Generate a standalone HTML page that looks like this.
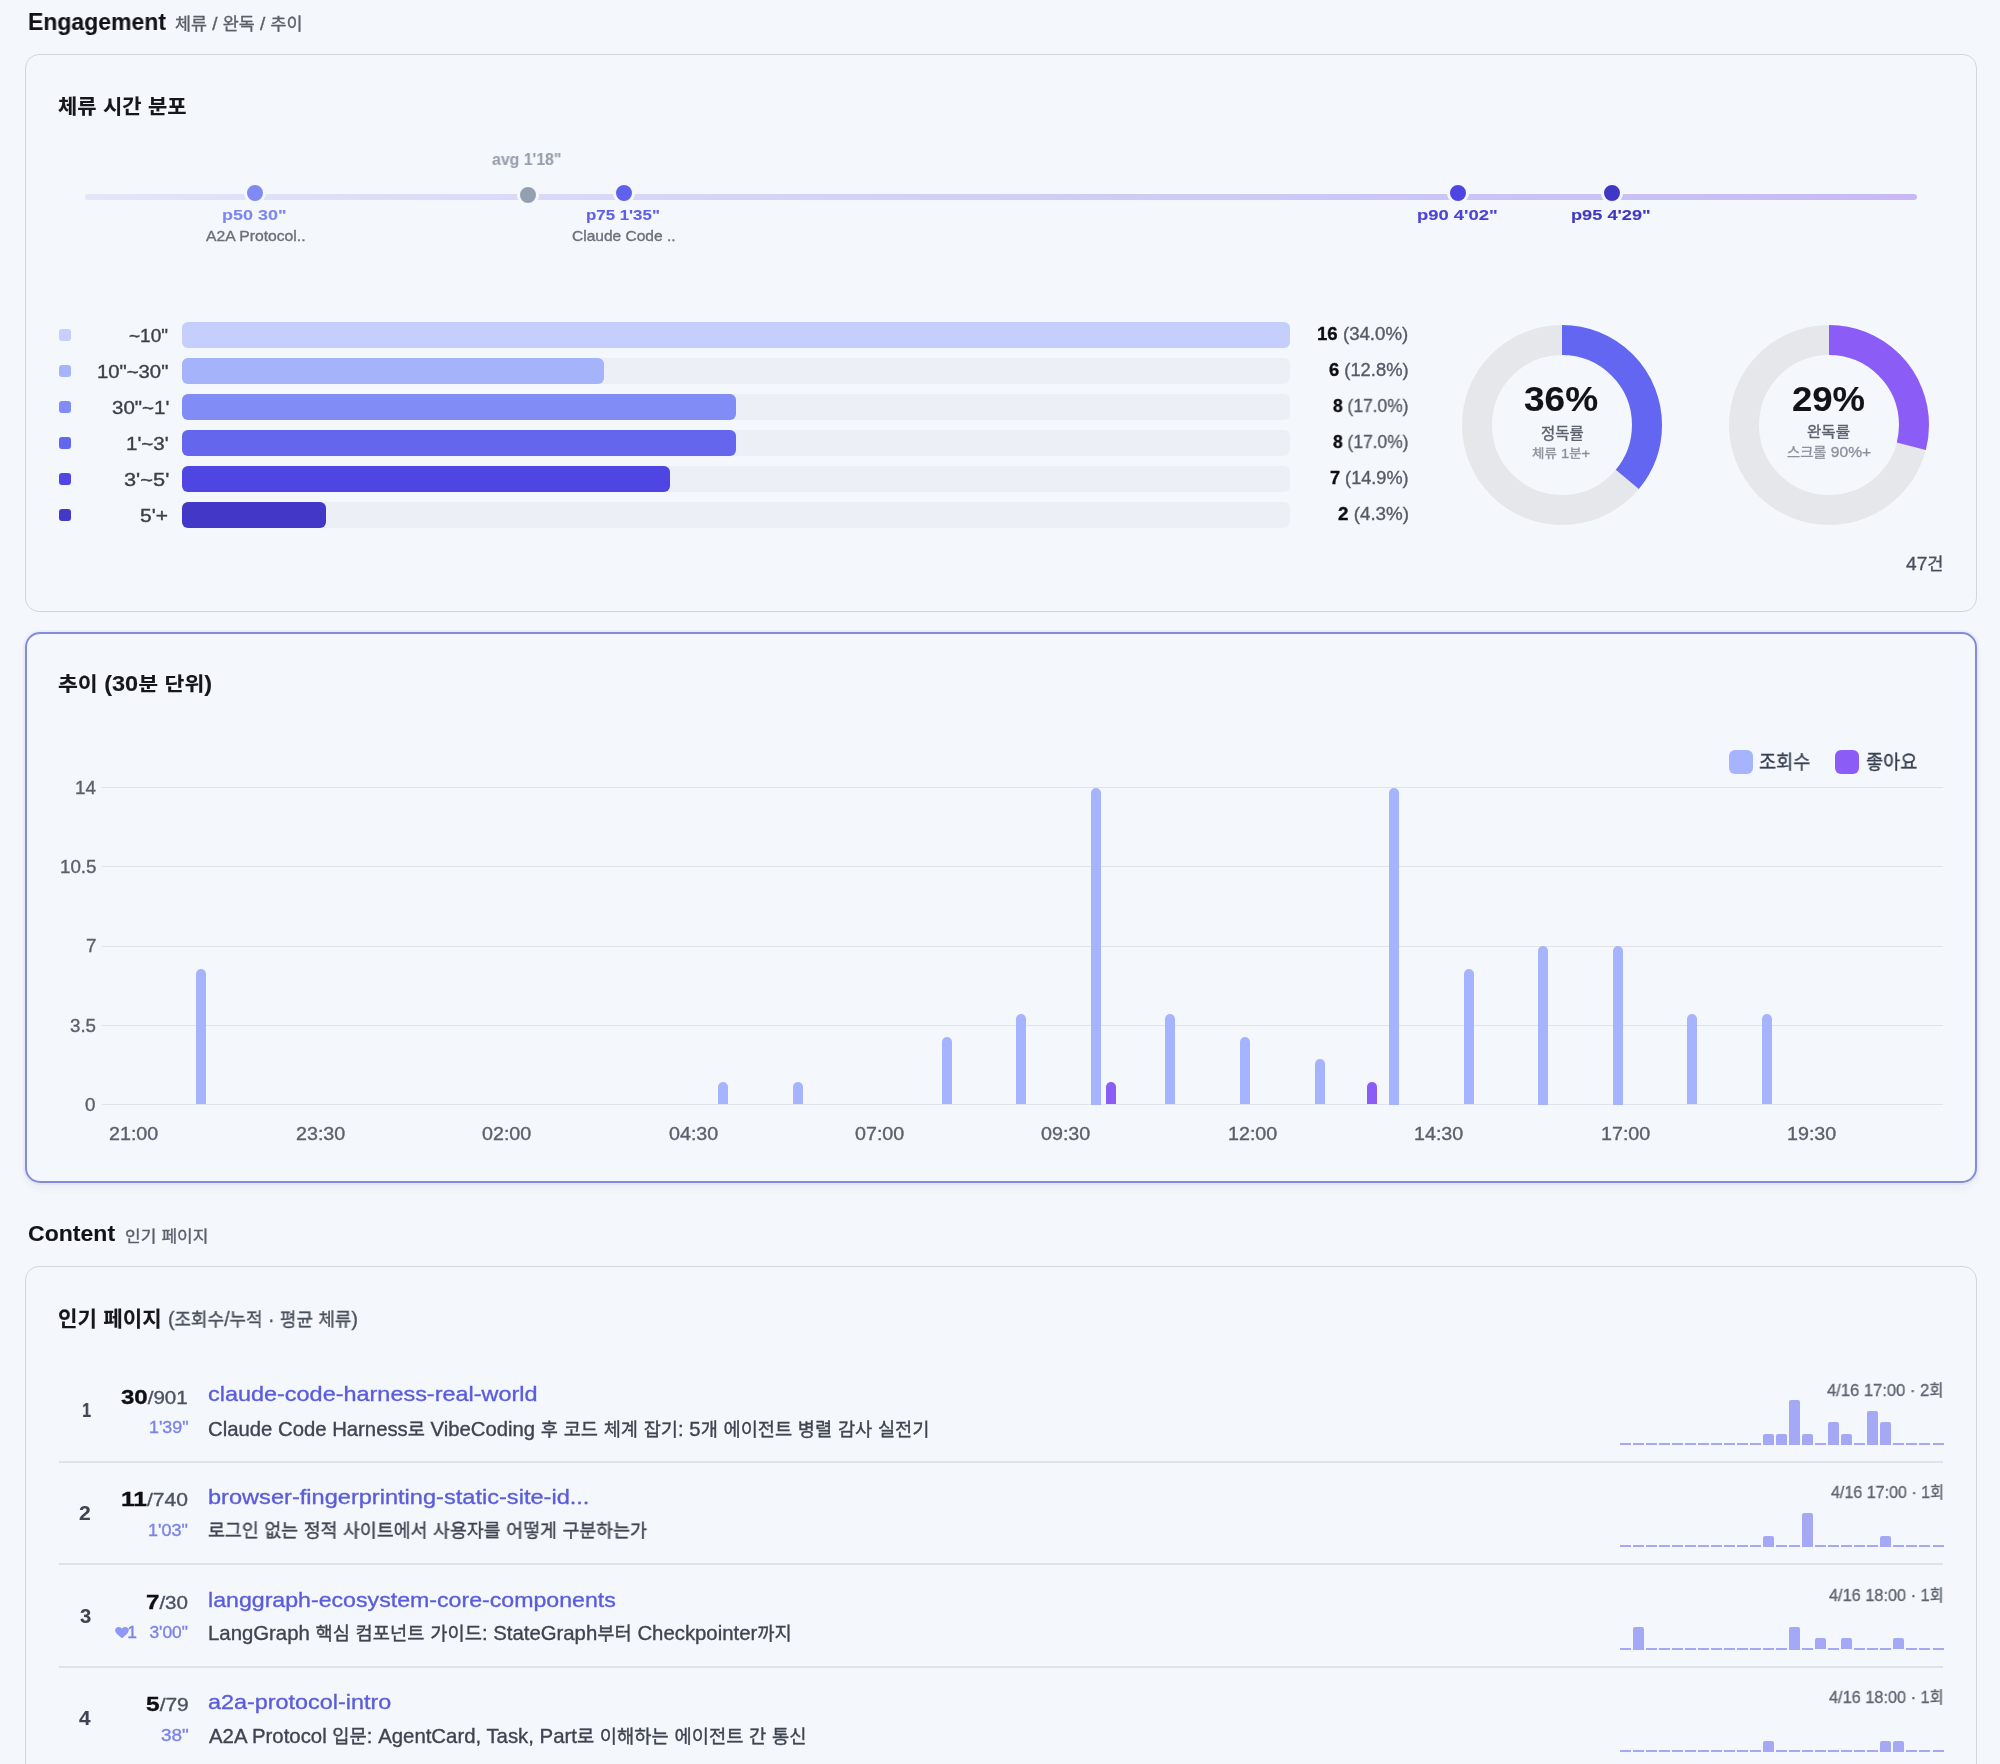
<!DOCTYPE html>
<html lang="ko"><head><meta charset="utf-8"><title>Engagement</title>
<style>
*{box-sizing:border-box;margin:0;padding:0}
html,body{width:2000px;height:1764px;overflow:hidden;background:#f4f7fb}
body{position:relative;font-family:"Liberation Sans","Noto Sans CJK KR",sans-serif;color:#111827}
.a{position:absolute;white-space:nowrap;line-height:1;transform-origin:0 0;will-change:transform;-webkit-text-stroke:0.35px currentColor}
.card{position:absolute;left:25px;width:1952px;border:1px solid #d3d7dd;border-radius:14px;background:#f4f7fb}
.h2{font-weight:700;font-size:23px;color:#111318}
.sub{font-size:17px;color:#5b606b}
.ct{font-weight:700;font-size:21px;color:#15171c}
.dot{position:absolute;width:22px;height:22px;border-radius:50%;border:3px solid #f4f7fb;margin:-11px 0 0 -11px}
.pl{font-weight:700;font-size:15.5px;text-align:center;transform:translateX(-50%)}
.pn{font-size:15px;color:#6b7079;text-align:center;transform:translateX(-50%)}
.sw{position:absolute;left:59px;width:12px;height:12px;border-radius:3px}
.bl{position:absolute;right:1832px;font-size:18px;color:#3c4049;text-align:right}
.trk{position:absolute;left:182px;width:1108px;height:26px;border-radius:6px;background:#eceff6}
.bar{position:absolute;left:0;top:0;height:26px;border-radius:6px}
.cnt{position:absolute;right:593px;font-size:18px;color:#555b66;text-align:right}
.cnt b{color:#0d0f14}
.ylab{right:1904px;font-size:18px;color:#5b606b;text-align:right}
.xlab{top:1125px;font-size:18px;color:#5b606b;transform:translateX(-50%)}
.vb{position:absolute;width:10px;background:#a5b4fc;border-radius:5px 5px 0 0}
.lb{position:absolute;width:10px;background:#8b5cf6;border-radius:5px 5px 0 0}
.leg{top:750px;font-size:20px;color:#374151}
.rk{right:1909px;font-size:20px;font-weight:700;color:#3f4450;text-align:right}
.vv{right:1812px;font-size:18px;color:#4b5260;text-align:right}
.vv b{font-size:21px;color:#0d0f14}
.du{right:1812px;font-size:16px;color:#7b83e8;text-align:right}
.hrt{margin-right:12px}
.lk{left:209px;font-size:21px;color:#5b5fe0}
.ds{left:209px;font-size:20px;color:#3f4450}
.dt{right:57px;font-size:16px;color:#5f6672;text-align:right}
.sz{position:absolute;width:11px;height:2px;background:#a5a8f5}
.sb{position:absolute;width:11px;background:#a5a8f5;border-radius:2px 2px 0 0}
</style></head>
<body>
<!-- Engagement header -->

<!-- Card 1 -->
<div class="card" style="top:54px;height:558px"></div>

<!-- timeline -->
<div style="position:absolute;left:85px;top:194px;width:1832px;height:6px;border-radius:3px;background:linear-gradient(90deg,#e3e5f9 0%,#d2d3f6 40%,#c9c3f5 80%,#c8b9f6 100%)"></div>
<div class="dot" style="left:528px;top:195px;background:#94a0b1"></div>
<div class="dot" style="left:255px;top:193px;background:#7f8af4"></div>
<div class="dot" style="left:624px;top:193px;background:#6062ee"></div>
<div class="dot" style="left:1458px;top:193px;background:#4e45e3"></div>
<div class="dot" style="left:1612px;top:193px;background:#4137c6"></div>

<!-- histogram -->
<div class="sw" style="top:329px;background:#c7d0fd"></div>
<div class="sw" style="top:365px;background:#a6b4fc"></div>
<div class="sw" style="top:401px;background:#818cf6"></div>
<div class="sw" style="top:437px;background:#6366ef"></div>
<div class="sw" style="top:473px;background:#4f46e4"></div>
<div class="sw" style="top:509px;background:#4338c8"></div>


<div class="trk" style="top:322px"><div class="bar" style="width:1108px;background:#c6cefd"></div></div>
<div class="trk" style="top:358px"><div class="bar" style="width:422px;background:#a5b3fb"></div></div>
<div class="trk" style="top:394px"><div class="bar" style="width:554px;background:#828cf7"></div></div>
<div class="trk" style="top:430px"><div class="bar" style="width:554px;background:#6467ee"></div></div>
<div class="trk" style="top:466px"><div class="bar" style="width:488px;background:#4f45e3"></div></div>
<div class="trk" style="top:502px"><div class="bar" style="width:144px;background:#4237c7"></div></div>


<!-- donuts -->
<svg style="position:absolute;left:1462px;top:325px" width="200" height="200" viewBox="0 0 200 200">
<circle cx="100" cy="100" r="85" fill="none" stroke="#e5e7eb" stroke-width="30"/>
<circle cx="100" cy="100" r="85" fill="none" stroke="#6366f1" stroke-width="30" stroke-dasharray="192.27 534.07" transform="rotate(-90 100 100)"/>
</svg>
<svg style="position:absolute;left:1729px;top:325px" width="200" height="200" viewBox="0 0 200 200">
<circle cx="100" cy="100" r="85" fill="none" stroke="#e5e7eb" stroke-width="30"/>
<circle cx="100" cy="100" r="85" fill="none" stroke="#8b5cf6" stroke-width="30" stroke-dasharray="154.88 534.07" transform="rotate(-90 100 100)"/>
</svg>

<!-- Card 2 -->
<div class="card" style="top:631.5px;height:551.5px;border:2px solid #858bda;border-radius:15px;box-shadow:0 0 0 2px rgba(99,102,241,0.05),0 5px 10px rgba(30,40,80,0.05)"></div>
<div style="position:absolute;left:102px;top:787.0px;width:1841px;height:1px;background:#e0e3e8"></div>
<div style="position:absolute;left:102px;top:866.2px;width:1841px;height:1px;background:#e0e3e8"></div>
<div style="position:absolute;left:102px;top:945.5px;width:1841px;height:1px;background:#e0e3e8"></div>
<div style="position:absolute;left:102px;top:1024.7px;width:1841px;height:1px;background:#e0e3e8"></div>
<div style="position:absolute;left:102px;top:1104.0px;width:1841px;height:1px;background:#e0e3e8"></div>
<div class="vb" style="left:196.2px;top:968.6px;height:135.9px"></div>
<div class="vb" style="left:718.1px;top:1081.9px;height:22.6px"></div>
<div class="vb" style="left:792.6px;top:1081.9px;height:22.6px"></div>
<div class="vb" style="left:941.8px;top:1036.6px;height:67.9px"></div>
<div class="vb" style="left:1016.3px;top:1013.9px;height:90.6px"></div>
<div class="vb" style="left:1090.9px;top:787.5px;height:317.0px"></div>
<div class="vb" style="left:1165.4px;top:1013.9px;height:90.6px"></div>
<div class="vb" style="left:1240.0px;top:1036.6px;height:67.9px"></div>
<div class="vb" style="left:1314.6px;top:1059.2px;height:45.3px"></div>
<div class="vb" style="left:1389.1px;top:787.5px;height:317.0px"></div>
<div class="vb" style="left:1463.7px;top:968.6px;height:135.9px"></div>
<div class="vb" style="left:1538.2px;top:946.0px;height:158.5px"></div>
<div class="vb" style="left:1612.8px;top:946.0px;height:158.5px"></div>
<div class="vb" style="left:1687.4px;top:1013.9px;height:90.6px"></div>
<div class="vb" style="left:1761.9px;top:1013.9px;height:90.6px"></div>
<div class="lb" style="left:1105.9px;top:1081.9px;height:22.6px"></div>
<div class="lb" style="left:1366.8px;top:1081.9px;height:22.6px"></div>
<div style="position:absolute;left:1729px;top:750px;width:24px;height:24px;border-radius:6px;background:#a5b4fc"></div>
<div style="position:absolute;left:1835px;top:750px;width:24px;height:24px;border-radius:6px;background:#8b5cf6"></div>

<!-- Content header -->

<!-- Card 3 -->
<div class="card" style="top:1266px;height:600px"></div>
<div class="sz" style="left:1619.5px;top:1442.7px"></div>
<div class="sz" style="left:1632.5px;top:1442.7px"></div>
<div class="sz" style="left:1645.6px;top:1442.7px"></div>
<div class="sz" style="left:1658.6px;top:1442.7px"></div>
<div class="sz" style="left:1671.7px;top:1442.7px"></div>
<div class="sz" style="left:1684.7px;top:1442.7px"></div>
<div class="sz" style="left:1697.7px;top:1442.7px"></div>
<div class="sz" style="left:1710.8px;top:1442.7px"></div>
<div class="sz" style="left:1723.8px;top:1442.7px"></div>
<div class="sz" style="left:1736.9px;top:1442.7px"></div>
<div class="sz" style="left:1749.9px;top:1442.7px"></div>
<div class="sb" style="left:1762.9px;top:1433.5px;height:11.2px"></div>
<div class="sb" style="left:1776.0px;top:1433.5px;height:11.2px"></div>
<div class="sb" style="left:1789.0px;top:1399.7px;height:45.0px"></div>
<div class="sb" style="left:1802.1px;top:1433.5px;height:11.2px"></div>
<div class="sz" style="left:1815.1px;top:1442.7px"></div>
<div class="sb" style="left:1828.1px;top:1422.2px;height:22.5px"></div>
<div class="sb" style="left:1841.2px;top:1433.5px;height:11.2px"></div>
<div class="sz" style="left:1854.2px;top:1442.7px"></div>
<div class="sb" style="left:1867.3px;top:1411.0px;height:33.8px"></div>
<div class="sb" style="left:1880.3px;top:1422.2px;height:22.5px"></div>
<div class="sz" style="left:1893.3px;top:1442.7px"></div>
<div class="sz" style="left:1906.4px;top:1442.7px"></div>
<div class="sz" style="left:1919.4px;top:1442.7px"></div>
<div class="sz" style="left:1932.5px;top:1442.7px"></div>
<div style="position:absolute;left:59px;top:1461.0px;width:1884px;height:2px;background:#dfe2e7"></div>
<div class="sz" style="left:1619.5px;top:1545.1px"></div>
<div class="sz" style="left:1632.5px;top:1545.1px"></div>
<div class="sz" style="left:1645.6px;top:1545.1px"></div>
<div class="sz" style="left:1658.6px;top:1545.1px"></div>
<div class="sz" style="left:1671.7px;top:1545.1px"></div>
<div class="sz" style="left:1684.7px;top:1545.1px"></div>
<div class="sz" style="left:1697.7px;top:1545.1px"></div>
<div class="sz" style="left:1710.8px;top:1545.1px"></div>
<div class="sz" style="left:1723.8px;top:1545.1px"></div>
<div class="sz" style="left:1736.9px;top:1545.1px"></div>
<div class="sz" style="left:1749.9px;top:1545.1px"></div>
<div class="sb" style="left:1762.9px;top:1535.9px;height:11.2px"></div>
<div class="sz" style="left:1776.0px;top:1545.1px"></div>
<div class="sz" style="left:1789.0px;top:1545.1px"></div>
<div class="sb" style="left:1802.1px;top:1513.4px;height:33.8px"></div>
<div class="sz" style="left:1815.1px;top:1545.1px"></div>
<div class="sz" style="left:1828.1px;top:1545.1px"></div>
<div class="sz" style="left:1841.2px;top:1545.1px"></div>
<div class="sz" style="left:1854.2px;top:1545.1px"></div>
<div class="sz" style="left:1867.3px;top:1545.1px"></div>
<div class="sb" style="left:1880.3px;top:1535.9px;height:11.2px"></div>
<div class="sz" style="left:1893.3px;top:1545.1px"></div>
<div class="sz" style="left:1906.4px;top:1545.1px"></div>
<div class="sz" style="left:1919.4px;top:1545.1px"></div>
<div class="sz" style="left:1932.5px;top:1545.1px"></div>
<div style="position:absolute;left:59px;top:1563.4px;width:1884px;height:2px;background:#dfe2e7"></div>
<div class="sz" style="left:1619.5px;top:1647.5px"></div>
<div class="sb" style="left:1632.5px;top:1627.0px;height:22.5px"></div>
<div class="sz" style="left:1645.6px;top:1647.5px"></div>
<div class="sz" style="left:1658.6px;top:1647.5px"></div>
<div class="sz" style="left:1671.7px;top:1647.5px"></div>
<div class="sz" style="left:1684.7px;top:1647.5px"></div>
<div class="sz" style="left:1697.7px;top:1647.5px"></div>
<div class="sz" style="left:1710.8px;top:1647.5px"></div>
<div class="sz" style="left:1723.8px;top:1647.5px"></div>
<div class="sz" style="left:1736.9px;top:1647.5px"></div>
<div class="sz" style="left:1749.9px;top:1647.5px"></div>
<div class="sz" style="left:1762.9px;top:1647.5px"></div>
<div class="sz" style="left:1776.0px;top:1647.5px"></div>
<div class="sb" style="left:1789.0px;top:1627.0px;height:22.5px"></div>
<div class="sz" style="left:1802.1px;top:1647.5px"></div>
<div class="sb" style="left:1815.1px;top:1638.2px;height:11.2px"></div>
<div class="sz" style="left:1828.1px;top:1647.5px"></div>
<div class="sb" style="left:1841.2px;top:1638.2px;height:11.2px"></div>
<div class="sz" style="left:1854.2px;top:1647.5px"></div>
<div class="sz" style="left:1867.3px;top:1647.5px"></div>
<div class="sz" style="left:1880.3px;top:1647.5px"></div>
<div class="sb" style="left:1893.3px;top:1638.2px;height:11.2px"></div>
<div class="sz" style="left:1906.4px;top:1647.5px"></div>
<div class="sz" style="left:1919.4px;top:1647.5px"></div>
<div class="sz" style="left:1932.5px;top:1647.5px"></div>
<div style="position:absolute;left:59px;top:1665.8px;width:1884px;height:2px;background:#dfe2e7"></div>
<div class="sz" style="left:1619.5px;top:1749.9px"></div>
<div class="sz" style="left:1632.5px;top:1749.9px"></div>
<div class="sz" style="left:1645.6px;top:1749.9px"></div>
<div class="sz" style="left:1658.6px;top:1749.9px"></div>
<div class="sz" style="left:1671.7px;top:1749.9px"></div>
<div class="sz" style="left:1684.7px;top:1749.9px"></div>
<div class="sz" style="left:1697.7px;top:1749.9px"></div>
<div class="sz" style="left:1710.8px;top:1749.9px"></div>
<div class="sz" style="left:1723.8px;top:1749.9px"></div>
<div class="sz" style="left:1736.9px;top:1749.9px"></div>
<div class="sz" style="left:1749.9px;top:1749.9px"></div>
<div class="sb" style="left:1762.9px;top:1740.7px;height:11.2px"></div>
<div class="sz" style="left:1776.0px;top:1749.9px"></div>
<div class="sz" style="left:1789.0px;top:1749.9px"></div>
<div class="sz" style="left:1802.1px;top:1749.9px"></div>
<div class="sz" style="left:1815.1px;top:1749.9px"></div>
<div class="sz" style="left:1828.1px;top:1749.9px"></div>
<div class="sz" style="left:1841.2px;top:1749.9px"></div>
<div class="sz" style="left:1854.2px;top:1749.9px"></div>
<div class="sz" style="left:1867.3px;top:1749.9px"></div>
<div class="sb" style="left:1880.3px;top:1740.7px;height:11.2px"></div>
<div class="sb" style="left:1893.3px;top:1740.7px;height:11.2px"></div>
<div class="sz" style="left:1906.4px;top:1749.9px"></div>
<div class="sz" style="left:1919.4px;top:1749.9px"></div>
<div class="sz" style="left:1932.5px;top:1749.9px"></div>
<div class="a" style="left:27.51px;top:10.5px;font-size:23.33px;transform:scaleX(0.9856);font-weight:700;color:#111318;-webkit-text-stroke:0.1px currentColor">Engagement</div>
<div class="a" style="left:175.48px;top:15.0px;font-size:18.55px;transform:scaleX(1.0205);color:#5b606b"><span style="font-size:0.92em">체류</span> / <span style="font-size:0.92em">완독</span> / <span style="font-size:0.92em">추이</span></div>
<div class="a" style="left:57.98px;top:96.0px;font-size:22.29px;transform:scaleX(1.0242);font-weight:700;color:#15171c;-webkit-text-stroke:0.1px currentColor"><span style="font-size:0.92em">체류</span> <span style="font-size:0.92em">시간</span> <span style="font-size:0.92em">분포</span></div>
<div class="a" style="left:492.4px;top:150.6px;font-size:16.44px;transform:scaleX(0.9634);font-weight:700;color:#97a0ae;-webkit-text-stroke:0.1px currentColor">avg 1'18"</div>
<div class="a" style="left:221.83px;top:207.0px;font-size:15.4px;transform:scaleX(1.1667);font-weight:700;color:#7d87ef;-webkit-text-stroke:0.1px currentColor">p50 30"</div>
<div class="a" style="left:206.0px;top:229.0px;font-size:14.92px;transform:scaleX(1.0538);color:#6b7079">A2A Protocol..</div>
<div class="a" style="left:585.6px;top:207.0px;font-size:15.4px;transform:scaleX(1.0955);font-weight:700;color:#5f5fe9;-webkit-text-stroke:0.1px currentColor">p75 1'35"</div>
<div class="a" style="left:571.96px;top:229.0px;font-size:14.92px;transform:scaleX(1.0412);color:#6b7079">Claude Code ..</div>
<div class="a" style="left:1416.8px;top:207.0px;font-size:15.4px;transform:scaleX(1.197);font-weight:700;color:#4c43d8;-webkit-text-stroke:0.1px currentColor">p90 4'02"</div>
<div class="a" style="left:1570.82px;top:207.0px;font-size:15.4px;transform:scaleX(1.1818);font-weight:700;color:#4237c0;-webkit-text-stroke:0.1px currentColor">p95 4'29"</div>
<div class="a" style="left:129.46px;top:327.0px;font-size:18.25px;transform:scaleX(1.0417);color:#3c4049">~10"</div>
<div class="a" style="left:96.89px;top:363.0px;font-size:18.25px;transform:scaleX(1.1111);color:#3c4049">10"~30"</div>
<div class="a" style="left:111.88px;top:399.0px;font-size:18.25px;transform:scaleX(1.1224);color:#3c4049">30"~1'</div>
<div class="a" style="left:126.38px;top:435.0px;font-size:18.25px;transform:scaleX(1.125);color:#3c4049">1'~3'</div>
<div class="a" style="left:123.81px;top:471.0px;font-size:18.25px;transform:scaleX(1.1944);color:#3c4049">3'~5'</div>
<div class="a" style="left:140.35px;top:507.0px;font-size:18.25px;transform:scaleX(1.1522);color:#3c4049">5'+</div>
<div class="a" style="left:1317.47px;top:325.0px;font-size:18.13px;transform:scaleX(1.0291);color:#555b66"><b style="color:#0d0f14">16</b> (34.0%)</div>
<div class="a" style="left:1328.99px;top:361.0px;font-size:18.13px;transform:scaleX(1.0132);color:#555b66"><b style="color:#0d0f14">6</b> (12.8%)</div>
<div class="a" style="left:1333.0px;top:397.0px;font-size:18.13px;transform:scaleX(0.961);color:#555b66"><b style="color:#0d0f14">8</b> (17.0%)</div>
<div class="a" style="left:1333.0px;top:433.0px;font-size:18.13px;transform:scaleX(0.961);color:#555b66"><b style="color:#0d0f14">8</b> (17.0%)</div>
<div class="a" style="left:1330.0px;top:469.0px;font-size:18.13px;transform:scaleX(1.0);color:#555b66"><b style="color:#0d0f14">7</b> (14.9%)</div>
<div class="a" style="left:1337.5px;top:505.0px;font-size:18.13px;transform:scaleX(1.0373);color:#555b66"><b style="color:#0d0f14">2</b> (4.3%)</div>
<div class="a" style="left:1524.19px;top:381.0px;font-size:35.09px;transform:scaleX(1.0551);font-weight:700;color:#111318;-webkit-text-stroke:0.1px currentColor">36%</div>
<div class="a" style="left:1540.5px;top:425.5px;font-size:16.81px;transform:scaleX(1.0);color:#5c626e"><span style="font-size:0.92em">정독률</span></div>
<div class="a" style="left:1531.91px;top:446.5px;font-size:13.53px;transform:scaleX(1.0865);color:#8c919b"><span style="font-size:0.92em">체류</span> 1<span style="font-size:0.92em">분</span>+</div>
<div class="a" style="left:1791.71px;top:381.0px;font-size:35.09px;transform:scaleX(1.0404);font-weight:700;color:#111318;-webkit-text-stroke:0.1px currentColor">29%</div>
<div class="a" style="left:1806.97px;top:423.0px;font-size:16.47px;transform:scaleX(1.0312);color:#5c626e"><span style="font-size:0.92em">완독률</span></div>
<div class="a" style="left:1787.0px;top:445.0px;font-size:14.77px;transform:scaleX(1.0538);color:#8c919b"><span style="font-size:0.92em">스크롤</span> 90%+</div>
<div class="a" style="left:1905.5px;top:555.25px;font-size:18.85px;transform:scaleX(1.0143);color:#4b515c">47<span style="font-size:0.92em">건</span></div>
<div class="a" style="left:57.89px;top:672.5px;font-size:21.2px;transform:scaleX(1.1073);font-weight:700;color:#15171c;-webkit-text-stroke:0.1px currentColor"><span style="font-size:0.92em">추이</span> (30<span style="font-size:0.92em">분</span> <span style="font-size:0.92em">단위</span>)</div>
<div class="a" style="left:1759.41px;top:752.4px;font-size:20.41px;transform:scaleX(0.992);color:#374151"><span style="font-size:0.92em">조회수</span></div>
<div class="a" style="left:1865.56px;top:751.4px;font-size:21.57px;transform:scaleX(0.9377);color:#374151"><span style="font-size:0.92em">좋아요</span></div>
<div class="a" style="left:75.0px;top:778.9px;font-size:18.2px;transform:scaleX(1.03);color:#5b606b">14</div>
<div class="a" style="left:59.55px;top:858.15px;font-size:18.2px;transform:scaleX(1.03);color:#5b606b">10.5</div>
<div class="a" style="left:86.33px;top:937.4px;font-size:18.2px;transform:scaleX(1.03);color:#5b606b">7</div>
<div class="a" style="left:69.85px;top:1016.65px;font-size:18.2px;transform:scaleX(1.03);color:#5b606b">3.5</div>
<div class="a" style="left:85.3px;top:1095.9px;font-size:18.2px;transform:scaleX(1.03);color:#5b606b">0</div>
<div class="a" style="left:109.35px;top:1125.7px;font-size:17.9px;transform:scaleX(1.1);color:#5b606b">21:00</div>
<div class="a" style="left:295.75px;top:1125.7px;font-size:17.9px;transform:scaleX(1.1);color:#5b606b">23:30</div>
<div class="a" style="left:482.15px;top:1125.7px;font-size:17.9px;transform:scaleX(1.1);color:#5b606b">02:00</div>
<div class="a" style="left:668.55px;top:1125.7px;font-size:17.9px;transform:scaleX(1.1);color:#5b606b">04:30</div>
<div class="a" style="left:854.95px;top:1125.7px;font-size:17.9px;transform:scaleX(1.1);color:#5b606b">07:00</div>
<div class="a" style="left:1041.35px;top:1125.7px;font-size:17.9px;transform:scaleX(1.1);color:#5b606b">09:30</div>
<div class="a" style="left:1227.75px;top:1125.7px;font-size:17.9px;transform:scaleX(1.1);color:#5b606b">12:00</div>
<div class="a" style="left:1414.15px;top:1125.7px;font-size:17.9px;transform:scaleX(1.1);color:#5b606b">14:30</div>
<div class="a" style="left:1600.55px;top:1125.7px;font-size:17.9px;transform:scaleX(1.1);color:#5b606b">17:00</div>
<div class="a" style="left:1786.95px;top:1125.7px;font-size:17.9px;transform:scaleX(1.1);color:#5b606b">19:30</div>
<div class="a" style="left:27.53px;top:1223.0px;font-size:21.61px;transform:scaleX(1.0667);font-weight:700;color:#111318;-webkit-text-stroke:0.1px currentColor">Content</div>
<div class="a" style="left:124.54px;top:1228.0px;font-size:17.39px;transform:scaleX(1.0632);color:#5b606b"><span style="font-size:0.92em">인기</span> <span style="font-size:0.92em">페이지</span></div>
<div class="a" style="left:58.39px;top:1307.0px;font-size:22.86px;transform:scaleX(1.006);font-weight:700;color:#15171c;-webkit-text-stroke:0.1px currentColor"><span style="font-size:0.92em">인기</span> <span style="font-size:0.92em">페이지</span></div>
<div class="a" style="left:168.04px;top:1309.0px;font-size:20.25px;transform:scaleX(0.9641);color:#4b515c">(<span style="font-size:0.92em">조회수</span>/<span style="font-size:0.92em">누적</span> · <span style="font-size:0.92em">평균</span> <span style="font-size:0.92em">체류</span>)</div>
<div class="a" style="left:81.89px;top:1400.0px;font-size:20.2px;transform:scaleX(0.81);font-weight:700;color:#3f4450;-webkit-text-stroke:0.1px currentColor">1</div>
<div class="a" style="left:121.0px;top:1386.0px;font-size:18.0px;transform:scaleX(1.1414);color:#4b5260"><b style="font-size:1.17em;color:#0d0f14">30</b>/901</div>
<div class="a" style="left:148.6px;top:1419.0px;font-size:16.2px;transform:scaleX(1.1029);color:#7b83e8">1'39"</div>
<div class="a" style="left:207.88px;top:1383.25px;font-size:21.0px;transform:scaleX(1.116);color:#5a5cdb">claude-code-harness-real-world</div>
<div class="a" style="left:207.99px;top:1418.5px;font-size:20.2px;transform:scaleX(1.0056);color:#3f4450">Claude Code Harness<span style="font-size:0.92em">로</span> VibeCoding <span style="font-size:0.92em">후</span> <span style="font-size:0.92em">코드</span> <span style="font-size:0.92em">체계</span> <span style="font-size:0.92em">잡기</span>: 5<span style="font-size:0.92em">개</span> <span style="font-size:0.92em">에이전트</span> <span style="font-size:0.92em">병렬</span> <span style="font-size:0.92em">감사</span> <span style="font-size:0.92em">실전기</span></div>
<div class="a" style="left:1827.2px;top:1381.5px;font-size:17.3px;transform:scaleX(0.9588);color:#5f6672">4/16 17:00 · 2<span style="font-size:0.92em">회</span></div>
<div class="a" style="left:78.7px;top:1502.7px;font-size:20.2px;transform:scaleX(1.045);font-weight:700;color:#3f4450;-webkit-text-stroke:0.1px currentColor">2</div>
<div class="a" style="left:120.83px;top:1488.0px;font-size:18.0px;transform:scaleX(1.1679);color:#4b5260"><b style="font-size:1.17em;color:#0d0f14">11</b>/740</div>
<div class="a" style="left:148.49px;top:1521.6px;font-size:16.2px;transform:scaleX(1.1118);color:#7b83e8">1'03"</div>
<div class="a" style="left:207.88px;top:1485.75px;font-size:21.0px;transform:scaleX(1.1231);color:#5a5cdb">browser-fingerprinting-static-site-id...</div>
<div class="a" style="left:208.01px;top:1520.0px;font-size:20.2px;transform:scaleX(0.9889);color:#3f4450"><span style="font-size:0.92em">로그인</span> <span style="font-size:0.92em">없는</span> <span style="font-size:0.92em">정적</span> <span style="font-size:0.92em">사이트에서</span> <span style="font-size:0.92em">사용자를</span> <span style="font-size:0.92em">어떻게</span> <span style="font-size:0.92em">구분하는가</span></div>
<div class="a" style="left:1830.7px;top:1484.0px;font-size:17.3px;transform:scaleX(0.9294);color:#5f6672">4/16 17:00 · 1<span style="font-size:0.92em">회</span></div>
<div class="a" style="left:79.5px;top:1606.0px;font-size:20.2px;transform:scaleX(1.0);font-weight:700;color:#3f4450;-webkit-text-stroke:0.1px currentColor">3</div>
<div class="a" style="left:145.86px;top:1591.0px;font-size:18.0px;transform:scaleX(1.1429);color:#4b5260"><b style="font-size:1.17em;color:#0d0f14">7</b>/30</div>
<div class="a" style="left:115.0px;top:1624.0px;font-size:16.2px;transform:scaleX(1.0746);color:#7b83e8"><svg style="width:0.8em;height:0.72em;margin-right:-0.1em;vertical-align:-0.02em" viewBox="0 0 24 22"><path d="M12 21.5 10.3 20C4.2 14.5 0 10.7 0 6.2 0 2.7 2.7 0 6.2 0c2 0 3.9.9 5.8 2.6C13.9.9 15.8 0 17.8 0 21.3 0 24 2.7 24 6.2c0 4.5-4.2 8.3-10.3 13.8z" fill="#8f98f3"/></svg>1<span style="display:inline-block;width:0.72em"></span>3'00"</div>
<div class="a" style="left:207.9px;top:1588.5px;font-size:21.0px;transform:scaleX(1.1022);color:#5a5cdb">langgraph-ecosystem-core-components</div>
<div class="a" style="left:207.99px;top:1622.5px;font-size:20.2px;transform:scaleX(1.008);color:#3f4450">LangGraph <span style="font-size:0.92em">핵심</span> <span style="font-size:0.92em">컴포넌트</span> <span style="font-size:0.92em">가이드</span>: StateGraph<span style="font-size:0.92em">부터</span> Checkpointer<span style="font-size:0.92em">까지</span></div>
<div class="a" style="left:1829.0px;top:1586.5px;font-size:17.3px;transform:scaleX(0.9437);color:#5f6672">4/16 18:00 · 1<span style="font-size:0.92em">회</span></div>
<div class="a" style="left:78.5px;top:1707.7px;font-size:20.2px;transform:scaleX(1.0273);font-weight:700;color:#3f4450;-webkit-text-stroke:0.1px currentColor">4</div>
<div class="a" style="left:145.54px;top:1693.4px;font-size:18.0px;transform:scaleX(1.1629);color:#4b5260"><b style="font-size:1.17em;color:#0d0f14">5</b>/79</div>
<div class="a" style="left:160.53px;top:1726.6px;font-size:16.2px;transform:scaleX(1.1682);color:#7b83e8">38"</div>
<div class="a" style="left:208.29px;top:1690.75px;font-size:21.0px;transform:scaleX(1.1135);color:#5a5cdb">a2a-protocol-intro</div>
<div class="a" style="left:209.4px;top:1725.8px;font-size:20.2px;transform:scaleX(1.0085);color:#3f4450">A2A Protocol <span style="font-size:0.92em">입문</span>: AgentCard, Task, Part<span style="font-size:0.92em">로</span> <span style="font-size:0.92em">이해하는</span> <span style="font-size:0.92em">에이전트</span> <span style="font-size:0.92em">간</span> <span style="font-size:0.92em">통신</span></div>
<div class="a" style="left:1829.0px;top:1689.0px;font-size:17.3px;transform:scaleX(0.9437);color:#5f6672">4/16 18:00 · 1<span style="font-size:0.92em">회</span></div>
</body></html>
